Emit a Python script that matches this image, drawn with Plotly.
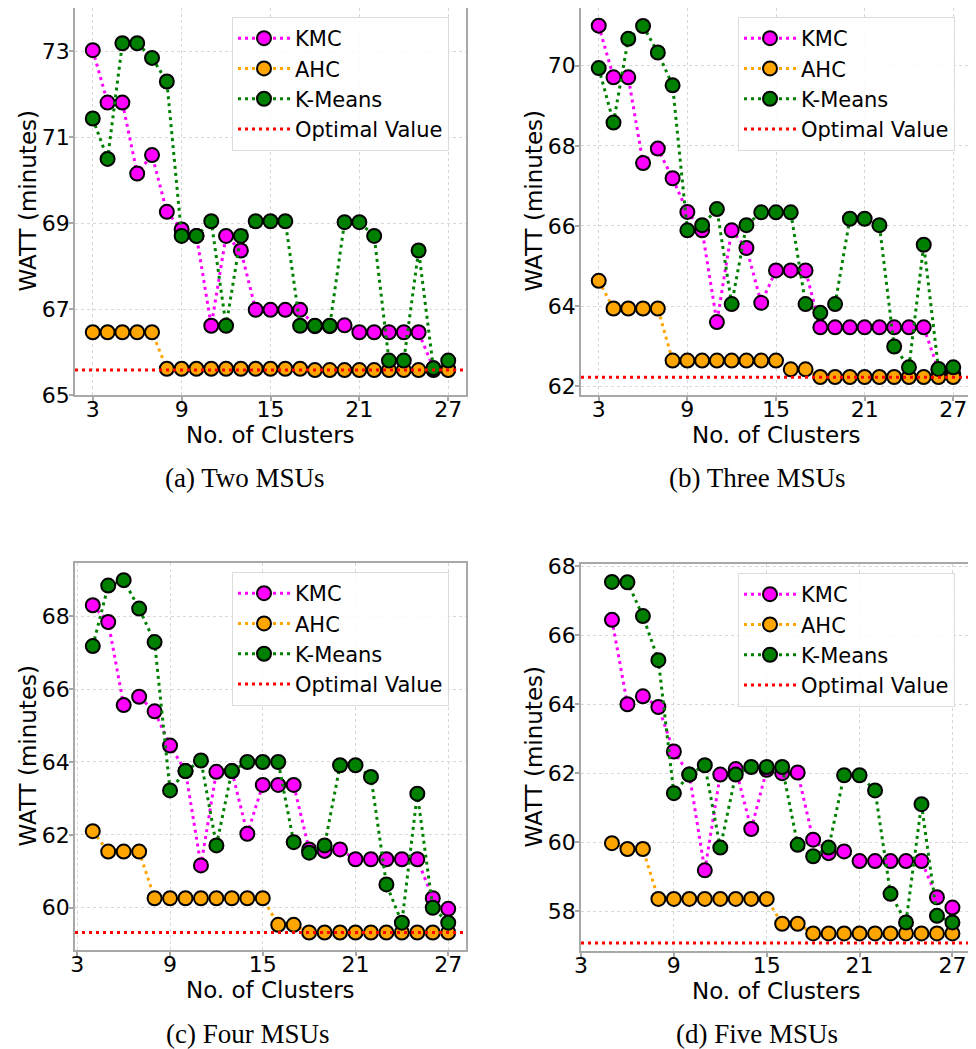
import plotly.graph_objects as go

# ---------------- data ----------------
x_ab = [3, 4, 5, 6, 7, 8, 9, 10, 11, 12, 13, 14, 15, 16, 17, 18, 19, 20, 21, 22, 23, 24, 25, 26, 27]
x_c = [4, 5, 6, 7, 8, 9, 10, 11, 12, 13, 14, 15, 16, 17, 18, 19, 20, 21, 22, 23, 24, 25, 26, 27]
x_d = [5, 6, 7, 8, 9, 10, 11, 12, 13, 14, 15, 16, 17, 18, 19, 20, 21, 22, 23, 24, 25, 26, 27]

kmc_a = [73.02, 71.80, 71.80, 70.15, 70.58, 69.26, 68.85, 68.70, 66.61, 68.70, 68.36, 66.98, 66.98,
         66.98, 66.98, 66.60, 66.60, 66.62, 66.46, 66.46, 66.46, 66.46, 66.46, 65.62, 65.60]
ahc_a = [66.46, 66.46, 66.46, 66.46, 66.46, 65.61, 65.61, 65.61, 65.61, 65.61, 65.61, 65.61, 65.61,
         65.61, 65.61, 65.58, 65.58, 65.58, 65.58, 65.58, 65.58, 65.58, 65.58, 65.58, 65.58]
km_a = [71.43, 70.49, 73.18, 73.18, 72.84, 72.29, 68.70, 68.70, 69.04, 66.61, 68.70, 69.04, 69.04,
        69.04, 66.61, 66.61, 66.61, 69.02, 69.02, 68.70, 65.80, 65.80, 68.36, 65.62, 65.80]
opt_a = 65.58

kmc_b = [71.00, 69.71, 69.71, 67.57, 67.93, 67.19, 66.35, 65.89, 63.60, 65.89, 65.45, 64.08, 64.89,
         64.89, 64.89, 63.47, 63.47, 63.47, 63.47, 63.47, 63.47, 63.47, 63.47, 62.40, 62.30]
ahc_b = [64.63, 63.94, 63.94, 63.94, 63.94, 62.64, 62.64, 62.64, 62.64, 62.64, 62.64, 62.64, 62.64,
         62.42, 62.42, 62.23, 62.23, 62.23, 62.23, 62.23, 62.23, 62.23, 62.23, 62.23, 62.23]
km_b = [69.94, 68.58, 70.67, 70.99, 70.33, 69.51, 65.89, 66.02, 66.42, 64.05, 66.02, 66.34, 66.34,
        66.34, 64.05, 63.83, 64.05, 66.18, 66.18, 66.02, 62.99, 62.47, 65.53, 62.43, 62.47]
opt_b = 62.22

kmc_c = [68.30, 67.84, 65.56, 65.79, 65.39, 64.45, 63.75, 61.16, 63.73, 63.75, 62.03, 63.37, 63.37,
         63.37, 61.60, 61.56, 61.60, 61.33, 61.33, 61.33, 61.33, 61.33, 60.26, 59.97]
ahc_c = [62.10, 61.54, 61.54, 61.54, 60.26, 60.26, 60.26, 60.26, 60.26, 60.26, 60.26, 60.26, 59.53,
         59.53, 59.32, 59.32, 59.32, 59.32, 59.32, 59.32, 59.32, 59.32, 59.32, 59.32]
km_c = [67.18, 68.84, 68.99, 68.21, 67.29, 63.22, 63.75, 64.04, 61.71, 63.75, 64.00, 64.00, 64.00,
        61.80, 61.51, 61.71, 63.91, 63.91, 63.59, 60.64, 59.59, 63.13, 60.00, 59.59]
opt_c = 59.32

kmc_d = [66.45, 64.00, 64.23, 63.92, 62.63, 61.96, 59.18, 61.96, 62.12, 60.38, 62.10, 62.00, 62.02,
         60.07, 59.68, 59.73, 59.45, 59.45, 59.45, 59.45, 59.45, 58.40, 58.10]
ahc_d = [59.97, 59.80, 59.80, 58.35, 58.35, 58.35, 58.35, 58.35, 58.35, 58.35, 58.35, 57.63, 57.63,
         57.35, 57.35, 57.35, 57.35, 57.35, 57.35, 57.35, 57.35, 57.35, 57.35]
km_d = [67.55, 67.54, 66.56, 65.28, 61.42, 61.96, 62.23, 59.84, 61.96, 62.18, 62.18, 62.18, 59.92,
        59.59, 59.84, 61.94, 61.94, 61.50, 58.50, 57.67, 61.10, 57.86, 57.67]
opt_d = 57.07

x_ticks = [3, 9, 15, 21, 27]
captions = ["(a) Two MSUs", "(b) Three MSUs", "(c) Four MSUs", "(d) Five MSUs"]
x_title = "No. of Clusters"
y_title = "WATT (minutes)"

# ---------------- styling / layout ----------------
PAGE_OFF = 8            # default body margin of the html page
W, H = 976 - PAGE_OFF, 1049 - PAGE_OFF
colors = {"KMC": "#FF00FF", "AHC": "#FFA500", "K-Means": "#008000", "Optimal Value": "#FF0000"}


def px_x(v):
    return (v - PAGE_OFF) / W


def px_y(v):
    return 1 - (v - PAGE_OFF) / H


panels = [
    dict(x=x_ab, kmc=kmc_a, ahc=ahc_a, km=km_a, opt=opt_a, xr=[1.8, 28.2], yr=[65.0, 74.0], tick0=65,
         box=(75, 466, 8, 395), leg=(232, 17), cap=(245, 478)),
    dict(x=x_ab, kmc=kmc_b, ahc=ahc_b, km=km_b, opt=opt_b, xr=[1.8, 28.2], yr=[61.78, 71.44], tick0=62,
         box=(581, 971, 8, 395), leg=(738, 17), cap=(757, 478)),
    dict(x=x_c, kmc=kmc_c, ahc=ahc_c, km=km_c, opt=opt_c, xr=[2.85, 28.15], yr=[58.84, 69.46], tick0=60,
         box=(75, 466, 563, 950), leg=(232, 572), cap=(248, 1034)),
    dict(x=x_d, kmc=kmc_d, ahc=ahc_d, km=km_d, opt=opt_d, xr=[3.0, 28.2], yr=[56.84, 68.07], tick0=58,
         box=(581, 971, 564, 951), leg=(738, 573), cap=(757, 1034)),
]

FONT = "DejaVu Sans"
dash = "3px,4px"
fig = go.Figure()
layout = dict(
    width=W, height=H, paper_bgcolor="white", plot_bgcolor="white",
    margin=dict(l=0, r=0, t=0, b=0, autoexpand=False), showlegend=True,
    font=dict(family=FONT, color="black"),
)
annotations = []

for i, p in enumerate(panels):
    n = "" if i == 0 else str(i + 1)
    xa, ya = "x" + n, "y" + n
    legname = "legend" + n
    l, r, t, b = p["box"]
    for name, yvals in (("KMC", p["kmc"]), ("AHC", p["ahc"]), ("K-Means", p["km"])):
        fig.add_trace(go.Scatter(
            x=p["x"], y=yvals, name=name, mode="lines+markers",
            line=dict(color=colors[name], width=3, dash=dash),
            marker=dict(size=14, color=colors[name], line=dict(color="black", width=2)),
            xaxis=xa, yaxis=ya, legend=legname, cliponaxis=False,
        ))
    fig.add_trace(go.Scatter(
        x=p["xr"], y=[p["opt"], p["opt"]], name="Optimal Value", mode="lines",
        line=dict(color=colors["Optimal Value"], width=3, dash=dash),
        xaxis=xa, yaxis=ya, legend=legname,
    ))
    axis_common = dict(
        showline=True, mirror=True, linecolor="#a8a8a8", linewidth=1.5,
        ticks="outside", tickcolor="#a8a8a8", ticklen=4, tickwidth=1.5,
        showgrid=True, gridcolor="#d8d8d8", griddash="dot", gridwidth=1,
        zeroline=False, automargin=False,
        tickfont=dict(size=22, family=FONT, color="black"),
    )
    layout["xaxis" + n] = dict(
        axis_common, domain=[px_x(l), px_x(r)], range=p["xr"], anchor=ya,
        tickmode="array", tickvals=x_ticks, ticklabelstandoff=-10,
    )
    layout["yaxis" + n] = dict(
        axis_common, domain=[px_y(b), px_y(t)], range=p["yr"], anchor=xa,
        tick0=p["tick0"], dtick=2, ticklabelstandoff=-5,
    )
    layout[legname] = dict(
        x=px_x(p["leg"][0]), y=px_y(p["leg"][1]), xanchor="left", yanchor="top",
        bgcolor="rgba(255,255,255,0.85)", bordercolor="#dcdcdc", borderwidth=1,
        font=dict(size=21, family=FONT, color="black"), itemwidth=52,
    )
    # axis titles
    annotations.append(dict(
        text=x_title, x=px_x((l + r) / 2), y=px_y(b + 40), xref="paper", yref="paper",
        xanchor="center", yanchor="middle", showarrow=False,
        font=dict(size=23, family=FONT, color="black"),
    ))
    annotations.append(dict(
        text=y_title, x=px_x(l - 48), y=px_y((t + b) / 2), xref="paper", yref="paper",
        xanchor="center", yanchor="middle", showarrow=False, textangle=-90,
        font=dict(size=23, family=FONT, color="black"),
    ))
    annotations.append(dict(
        text=captions[i], x=px_x(p["cap"][0]), y=px_y(p["cap"][1]), xref="paper", yref="paper",
        xanchor="center", yanchor="middle", showarrow=False,
        font=dict(size=27, family="Liberation Serif", color="black"),
    ))

layout["annotations"] = annotations
fig.update_layout(**layout)
fig.write_html("out.html")
